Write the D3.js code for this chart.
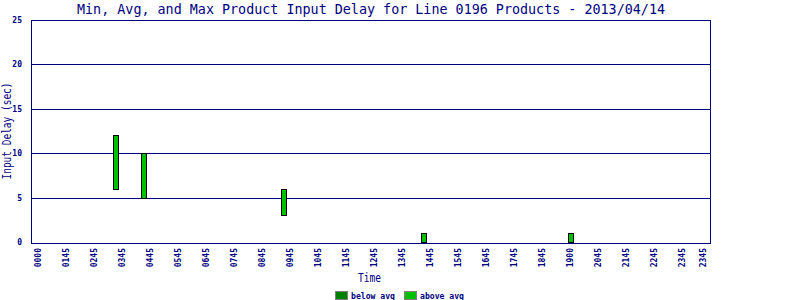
<!DOCTYPE html>
<html>
<head>
<meta charset="utf-8">
<script src="https://cdn.jsdelivr.net/npm/d3@7"></script>
<style>
  body { margin: 0; background: #fff; }
  svg { display: block; }
  text { fill: #000080; }
</style>
</head>
<body>
<div id="chart"></div>
<script>
// tick positions (minutes) and their printed labels
var tickMinutes = [0, 60, 120, 180, 240, 300, 360, 420, 480, 540, 600, 660, 720,
                   780, 840, 900, 960, 1020, 1080, 1140, 1200, 1260, 1320, 1380, 1425];
var tickLabels = ["0000", "0145", "0245", "0345", "0445", "0545", "0645", "0745", "0845",
                  "0945", "1045", "1145", "1245", "1345", "1445", "1545", "1645", "1745",
                  "1845", "1900", "2045", "2145", "2245", "2345", "2345"];

// one bar per product window
var barTimes = [166, 226, 527, 826, 1142];
var minDelay = [6, 5, 3, 0, 0];
var maxDelay = [12, 10, 6, 1, 1];

var yTicks = [0, 5, 10, 15, 20, 25];

var width = 800, height = 300;
var margin = {top: 20, right: 90, bottom: 58, left: 31};
var pw = width - margin.left - margin.right,
    ph = height - margin.top - margin.bottom;

var navy = "#000080", aboveCol = "#00c000", belowCol = "#008000";

var svg = d3.select("#chart").append("svg")
    .attr("width", width)
    .attr("height", height);

var x = d3.scaleLinear()
    .domain([-15, 1440])
    .range([margin.left, margin.left + pw]);

var y = d3.scaleLinear()
    .domain([0, 25])
    .range([margin.top + ph, margin.top]);

// title
svg.append("text")
    .attr("x", 371)
    .attr("y", 14)
    .attr("text-anchor", "middle")
    .attr("font-family", "DejaVu Sans Mono")
    .attr("font-size", 14)
    .attr("textLength", 588)
    .attr("lengthAdjust", "spacingAndGlyphs")
    .text("Min, Avg, and Max Product Input Delay for Line 0196 Products - 2013/04/14");

// gridlines
svg.append("g").selectAll("line")
    .data(yTicks.slice(1))
    .enter().append("line")
      .attr("x1", margin.left)
      .attr("x2", margin.left + pw)
      .attr("y1", function(d) { return Math.round(y(d)) + 0.5; })
      .attr("y2", function(d) { return Math.round(y(d)) + 0.5; })
      .attr("stroke", navy)
      .attr("stroke-width", 1);

// frame
svg.append("rect")
    .attr("x", margin.left + 0.5)
    .attr("y", margin.top + 0.5)
    .attr("width", pw)
    .attr("height", ph + 1)
    .attr("fill", "none")
    .attr("stroke", navy);

// y axis
var yAxis = svg.append("g")
    .attr("transform", "translate(" + margin.left + ",0)")
    .call(d3.axisLeft(y).tickValues(yTicks).tickSize(0).tickPadding(9));
yAxis.select(".domain").remove();
yAxis.selectAll("text")
    .attr("font-family", "DejaVu Sans Mono")
    .attr("font-weight", "bold")
    .attr("font-size", 8)
    .attr("fill", navy);

// x axis
var xAxis = svg.append("g")
    .attr("transform", "translate(0," + (margin.top + ph) + ")")
    .call(d3.axisBottom(x).tickValues(tickMinutes).tickSize(0)
      .tickFormat(function(d, i) { return tickLabels[i]; }));
xAxis.select(".domain").remove();
xAxis.selectAll("text")
    .attr("font-family", "DejaVu Sans Mono")
    .attr("font-weight", "bold")
    .attr("font-size", 8)
    .attr("fill", navy)
    .attr("text-anchor", "end")
    .attr("dy", "0.35em")
    .attr("transform", "translate(0,6) rotate(-90)")
    .attr("x", 0)
    .attr("y", 0);

// bars
var bw = 5;
svg.append("g").selectAll("rect")
    .data(barTimes)
    .enter().append("rect")
      .attr("x", function(d) { return Math.round(x(d) - bw / 2) + 0.5; })
      .attr("y", function(d, i) { return Math.round(y(maxDelay[i])) + 0.5; })
      .attr("width", bw)
      .attr("height", function(d, i) { return Math.round(y(minDelay[i])) - Math.round(y(maxDelay[i])); })
      .attr("fill", aboveCol)
      .attr("stroke", "#000")
      .attr("stroke-width", 1);

// axis titles
svg.append("text")
    .attr("transform", "translate(11,131) rotate(-90)")
    .attr("text-anchor", "middle")
    .attr("font-family", "DejaVu Sans Mono")
    .attr("font-size", 11.5)
    .attr("textLength", 97)
    .attr("lengthAdjust", "spacingAndGlyphs")
    .text("Input Delay (sec)");

svg.append("text")
    .attr("x", 369.5)
    .attr("y", 282)
    .attr("text-anchor", "middle")
    .attr("font-family", "DejaVu Sans Mono")
    .attr("font-size", 12)
    .attr("textLength", 23)
    .attr("lengthAdjust", "spacingAndGlyphs")
    .text("Time");

// legend
var legend = [{label: "below avg", color: belowCol, x: 335}, {label: "above avg", color: aboveCol, x: 404}];
var lg = svg.append("g").selectAll("g")
    .data(legend)
    .enter().append("g")
      .attr("transform", function(d) { return "translate(" + d.x + ",291)"; });
lg.append("rect")
    .attr("x", 0.5).attr("y", 0.5)
    .attr("width", 12).attr("height", 8)
    .attr("fill", function(d) { return d.color; })
    .attr("stroke", "#808080");
lg.append("text")
    .attr("x", 16)
    .attr("y", 7.5)
    .attr("font-family", "DejaVu Sans Mono")
    .attr("font-weight", "bold")
    .attr("font-size", 8)
    .attr("textLength", 44)
    .attr("lengthAdjust", "spacingAndGlyphs")
    .text(function(d) { return d.label; });
</script>
</body>
</html>
